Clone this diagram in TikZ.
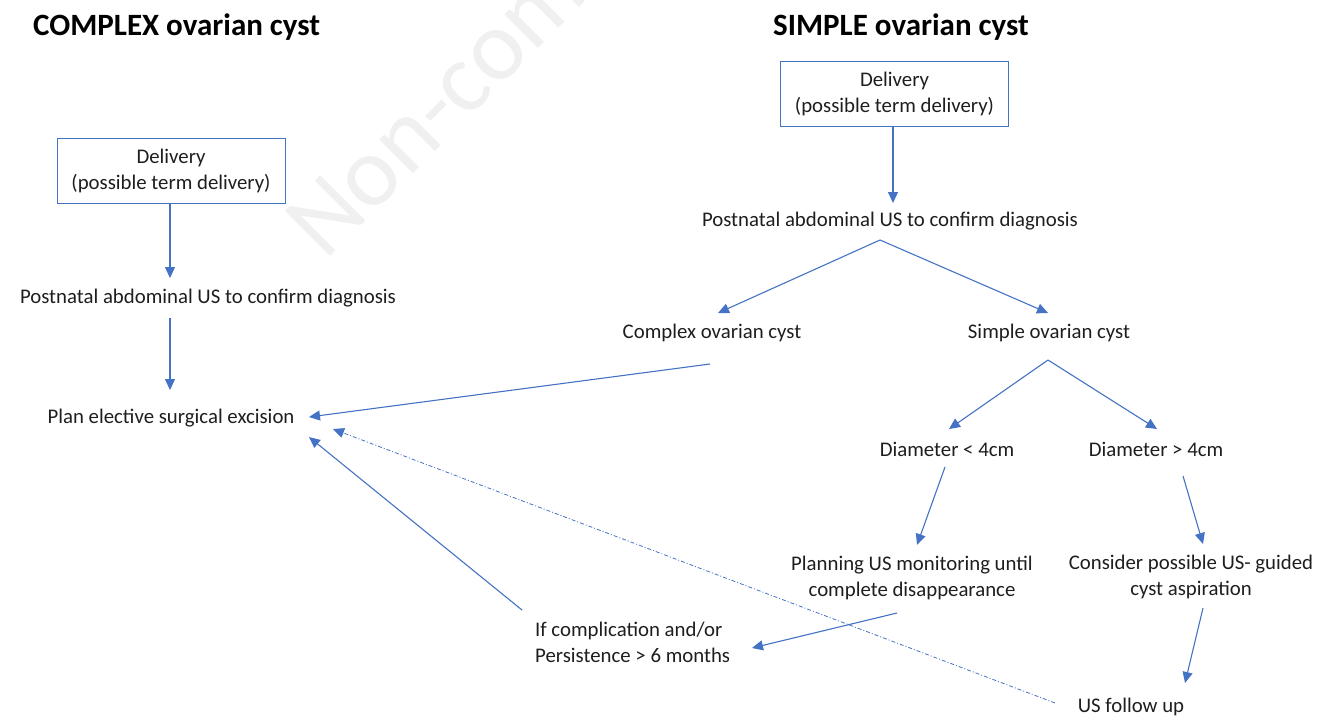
\documentclass[tikz,border=0pt]{standalone}
\usepackage{fontspec}
\setmainfont{Carlito}
\usetikzlibrary{arrows.meta,calc}
\definecolor{ln}{HTML}{4472C4}
\definecolor{tx}{HTML}{1E1E1E}
\begin{document}
\begin{tikzpicture}[x=1pt,y=-1pt,
  txt/.style={inner sep=0pt, font=\fontsize{20.8}{26}\selectfont, align=center, text=tx},
  ttl/.style={inner sep=0pt, font=\fontsize{31}{34}\selectfont\bfseries, anchor=west, text=black},
  box/.style={draw=ln, line width=1pt, minimum width=228pt, minimum height=65pt, inner sep=0pt, align=center, font=\fontsize{20.8}{26}\selectfont, text=tx},
  arr/.style={draw=ln, line width=1.1pt, -{Triangle[length=11pt,width=10pt]}},
  darr/.style={arr, dash pattern=on 4pt off 2pt on 1pt off 2pt, line width=0.8pt}
  ]
\useasboundingbox (0,0) rectangle (1332,717);
% watermark
\node[rotate=45, text=black!6, inner sep=0pt, font=\fontsize{100}{100}\selectfont, anchor=base west] (wm) at (325,262) {Non-com};
% titles
\node[ttl] (t1) at (33,27) {COMPLEX ovarian cyst};
\node[ttl] (t2) at (773,27) {SIMPLE ovarian cyst};
% left column
\node[box] (ld) at (171,170.5) {Delivery\\(possible term delivery)};
\node[txt] (lp) at (208,298) {Postnatal abdominal US to confirm diagnosis};
\node[txt] (pl) at (171,418) {Plan elective surgical excision};
% right column
\node[box] (rd) at (894.5,94) {Delivery\\(possible term delivery)};
\node[txt] (rp) at (890,221) {Postnatal abdominal US to confirm diagnosis};
\node[txt] (co) at (712,333) {Complex ovarian cyst};
\node[txt] (si) at (1049,333) {Simple ovarian cyst};
\node[txt] (dl) at (947,449) {Diameter < 4cm};
\node[txt] (dg) at (1156,449) {Diameter > 4cm};
\node[txt] (pm) at (912,578) {Planning US monitoring until\\complete disappearance};
\node[txt] (ca) at (1191,577) {Consider possible US- guided\\cyst aspiration};
\node[txt] (fu) at (1131,707) {US follow up};
\node[txt, align=left, anchor=west] (ic) at (535,642) {If complication and/or\\Persistence > 6 months};
% connectors
\draw[arr] (ld.south -| 170,0) -- ($(lp.center)+(-38,-20)$);
\draw[arr] ($(lp.center)+(-38,20)$) -- ($(pl.center)+(-1,-28)$);
\draw[arr] (rd.south -| 893,0) -- ($(rp.center)+(3,-18)$);
\coordinate (rpb) at ($(rp.center)+(-10,19)$);
\draw[arr] (rpb) -- ($(co.center)+(6,-20)$);
\draw[arr] (rpb) -- ($(si.center)+(-1,-20)$);
\draw[arr] ($(co.center)+(-2,31)$) -- ($(pl.center)+(138,-1)$);
\coordinate (sib) at ($(si.center)+(-1,27)$);
\draw[arr] (sib) -- ($(dl.center)+(2,-20)$);
\draw[arr] (sib) -- ($(dg.center)+(1,-20)$);
\draw[arr] ($(dl.center)+(-2,18)$) -- ($(pm.center)+(5,-33)$);
\draw[arr] ($(dg.center)+(27,27)$) -- ($(ca.center)+(12,-33)$);
\draw[arr] ($(ca.center)+(12,31)$) -- ($(fu.center)+(54,-24)$);
\draw[arr] ($(pm.center)+(-15,35)$) -- ($(ic.west)+(217,6)$);
\draw[arr] ($(ic.west)+(-13,-32)$) -- ($(pl.center)+(138,19)$);
\draw[darr] ($(fu.center)+(-76,-4)$) -- ($(pl.center)+(162,11)$);
\end{tikzpicture}
\end{document}
